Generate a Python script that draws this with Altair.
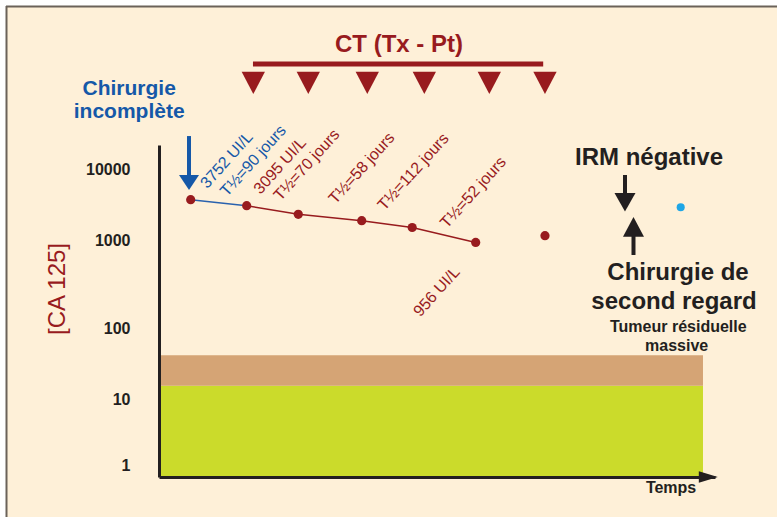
import altair as alt
import pandas as pd

# ---------------- data ----------------
# CA 125 measurements (time in arbitrary units, value in UI/L)
times = [5.70, 15.77, 25.05, 36.46, 45.54, 56.96, 69.42]
ca125 = [3752, 3095, 2344, 1905, 1531, 956, 1175]
# value after the second-look surgery (light blue point)
irm_time = [93.83]
irm_value = [2936]

# chemotherapy cycles (CT Tx - Pt)
ct_times = [16.96, 26.85, 37.46, 47.72, 59.41, 69.42]

# reference bands (normal zones)
band_x = [0, 97.84]
green_band = [0.657, 15.5]
tan_band = [15.5, 42]

# y axis tick values
y_ticks = [1, 10, 100, 1000, 10000]

# annotation texts and anchors (data coordinates)
blue_labels = ["3752 UI/L", "T½=90 jours"]
blue_label_x = [12.18, 16.96]
blue_label_y = [13490, 13150]
red_labels = ["3095 UI/L", "T½=70 jours", "T½=58 jours", "T½=112 jours", "T½=52 jours", "956 UI/L"]
red_label_x = [21.76, 26.56, 36.46, 45.74, 56.53, 49.95]
red_label_y = [11190, 11480, 10330, 9250, 4730, 263.4]

# ---------------- styles ----------------
CREAM = "#FEF0D8"
RED = "#981B1E"
BLUE = "#1558A8"
LIGHTBLUE = "#1EA6E6"
DARK = "#231F20"
GREEN = "#CBDB2B"
TAN = "#D5A475"
FONT = "Liberation Sans"

x_scale = alt.Scale(domain=[0, 100], nice=False, zero=False)
y_scale = alt.Scale(type="log", domain=[0.657, 1, 10, 100, 1000, 10000, 21900],
                    range=[332, 320, 254.3, 183.7, 95.7, 24.3, 0], nice=False)

x_axis = alt.Axis(labels=False, ticks=False, grid=False, title=None,
                  domainColor=DARK, domainWidth=3, zindex=1)
y_axis = alt.Axis(values=y_ticks, format="d", labelFont=FONT, labelFontWeight="bold",
                  labelFontSize=16, labelColor=DARK, ticks=False, labelPadding=29,
                  grid=False, title=None, domainColor=DARK, domainWidth=3,
                  labelOverlap=False, zindex=1)


def X(field="x"):
    return alt.X(field, type="quantitative", scale=x_scale, axis=x_axis)


def Y(field="y"):
    return alt.Y(field, type="quantitative", scale=y_scale, axis=y_axis)


meas = pd.DataFrame({"x": times, "y": ca125})
blue_seg = meas.iloc[0:2]
red_seg = meas.iloc[1:6]

# frame / background
one = pd.DataFrame({"a": [0]})
frame_bg = alt.Chart(one).mark_rect(fill=CREAM).encode(
    x=alt.value(-152), x2=alt.value(618), y=alt.value(-138), y2=alt.value(372))
frame_left = alt.Chart(one).mark_rule(color="#6B6259", strokeWidth=2).encode(
    x=alt.value(-152.5), y=alt.value(-139), y2=alt.value(372))
frame_top = alt.Chart(one).mark_rule(color="#6B6259", strokeWidth=2).encode(
    x=alt.value(-153), x2=alt.value(618), y=alt.value(-138.5))

bands = pd.DataFrame({
    "x": [band_x[0], band_x[0]], "x2": [band_x[1], band_x[1]],
    "y": [green_band[0], tan_band[0]], "y2": [green_band[1], tan_band[1]],
    "c": ["green", "tan"]})
band_layer = alt.Chart(bands).mark_rect().encode(
    x=X("x"), x2="x2", y=Y("y"), y2="y2",
    color=alt.Color("c:N", scale=alt.Scale(domain=["green", "tan"], range=[GREEN, TAN]), legend=None))

line_blue = alt.Chart(blue_seg).mark_line(color="#2A62AE", strokeWidth=1.5).encode(x=X(), y=Y())
line_red = alt.Chart(red_seg).mark_line(color=RED, strokeWidth=1.5).encode(x=X(), y=Y())

points = alt.Chart(meas).mark_point(filled=True, color=RED, size=85, opacity=1).encode(x=X(), y=Y())

irm_point = alt.Chart(pd.DataFrame({"x": irm_time, "y": irm_value})).mark_point(
    filled=True, color=LIGHTBLUE, size=65, opacity=1).encode(x=X(), y=Y())

# x-axis arrow head and title
arrow_head = alt.Chart(pd.DataFrame({"x": [98.8], "y": [0.657]})).mark_point(
    filled=True, color=DARK, opacity=1, size=361, shape="M-1,-0.6L1,0L-1,0.6Z").encode(x=X(), y=Y())
temps = alt.Chart(pd.DataFrame({"x": [92.1], "y": [0.4467], "t": ["Temps"]})).mark_text(
    font=FONT, fontWeight="bold", fontSize=16, color=DARK).encode(x=X(), y=Y(), text="t:N")

# y axis title
ca_title = alt.Chart(pd.DataFrame({"x": [-18.17], "y": [282.5], "t": ["[CA 125]"]})).mark_text(
    font=FONT, fontSize=24, color=RED, angle=270).encode(x=X(), y=Y(), text="t:N")

# CT header
ct_title = alt.Chart(pd.DataFrame({"x": [43.17], "y": [550800], "t": ["CT (Tx - Pt)"]})).mark_text(
    font=FONT, fontWeight="bold", fontSize=24, color=RED).encode(x=X(), y=Y(), text="t:N")
ct_bar = alt.Chart(pd.DataFrame({"x": [16.9], "x2": [69.1], "y": [298600]})).mark_rule(
    color=RED, strokeWidth=5).encode(x=X(), x2="x2", y=Y())
ct_marks = alt.Chart(pd.DataFrame({"x": ct_times, "y": [162200] * len(ct_times)})).mark_point(
    filled=True, color=RED, opacity=1, size=543, shape="M-1,-0.96L1,-0.96L0,0.96Z").encode(x=X(), y=Y())

# surgery annotation (blue)
surg_text = alt.Chart(pd.DataFrame({"x": [-5.36, -5.36], "y": [131900, 64100],
                                    "t": ["Chirurgie", "incomplète"]})).mark_text(
    font=FONT, fontWeight="bold", fontSize=21, color=BLUE).encode(x=X(), y=Y(), text="t:N")
surg_shaft = alt.Chart(pd.DataFrame({"x": [5.40], "y": [29240], "y2": [7555]})).mark_rule(
    color=BLUE, strokeWidth=4).encode(x=X(), y=Y(), y2="y2")
surg_head = alt.Chart(pd.DataFrame({"x": [5.40], "y": [6534]})).mark_point(
    filled=True, color=BLUE, opacity=1, size=400, shape="M-1,-0.75L1,-0.75L0,0.75Z").encode(x=X(), y=Y())

# rotated value labels
blue_lab = alt.Chart(pd.DataFrame({"x": blue_label_x, "y": blue_label_y, "t": blue_labels})).mark_text(
    font=FONT, fontSize=16, color=BLUE, angle=312).encode(x=X(), y=Y(), text="t:N")
red_lab = alt.Chart(pd.DataFrame({"x": red_label_x, "y": red_label_y, "t": red_labels})).mark_text(
    font=FONT, fontSize=16, color=RED, angle=312).encode(x=X(), y=Y(), text="t:N")

# right side annotations
irm_text = alt.Chart(pd.DataFrame({"x": [88.13], "y": [14390], "t": ["IRM négative"]})).mark_text(
    font=FONT, fontWeight="bold", fontSize=24, color=DARK).encode(x=X(), y=Y(), text="t:N")
down_shaft = alt.Chart(pd.DataFrame({"x": [83.81], "y": [8318], "y2": [4510]})).mark_rule(
    color=DARK, strokeWidth=4).encode(x=X(), y=Y(), y2="y2")
down_head = alt.Chart(pd.DataFrame({"x": [83.81], "y": [3453]})).mark_point(
    filled=True, color=DARK, opacity=1, size=441, shape="M-1,-0.89L1,-0.89L0,0.89Z").encode(x=X(), y=Y())
up_head = alt.Chart(pd.DataFrame({"x": [85.34], "y": [1563]})).mark_point(
    filled=True, color=DARK, opacity=1, size=441, shape="M-1,0.94L1,0.94L0,-0.94Z").encode(x=X(), y=Y())
up_shaft = alt.Chart(pd.DataFrame({"x": [85.34], "y": [1164], "y2": [688]})).mark_rule(
    color=DARK, strokeWidth=4).encode(x=X(), y=Y(), y2="y2")
surg2_big = alt.Chart(pd.DataFrame({"x": [93.35, 92.63], "y": [429.5, 202.8],
                                    "t": ["Chirurgie de", "second regard"]})).mark_text(
    font=FONT, fontWeight="bold", fontSize=24, color=DARK).encode(x=X(), y=Y(), text="t:N")
surg2_small = alt.Chart(pd.DataFrame({"x": [93.4, 93.1], "y": [105.4, 56.9],
                                      "t": ["Tumeur résiduelle", "massive"]})).mark_text(
    font=FONT, fontWeight="bold", fontSize=16, color=DARK).encode(x=X(), y=Y(), text="t:N")

chart = alt.layer(
    frame_bg, frame_left, frame_top,
    band_layer, line_blue, line_red, points, irm_point, arrow_head, temps, ca_title,
    ct_title, ct_bar, ct_marks, surg_text, surg_shaft, surg_head, blue_lab, red_lab,
    irm_text, down_shaft, down_head, up_head, up_shaft, surg2_big, surg2_small,
).properties(
    width=556, height=332,
    padding={"left": 159, "top": 145, "right": 62, "bottom": 40},
    autosize=alt.AutoSizeParams(type="none"),
    background="#FFFFFF",
).configure_view(stroke=None).configure(font=FONT)

chart.save("out.html", embed_options={"renderer": "svg", "actions": False})
